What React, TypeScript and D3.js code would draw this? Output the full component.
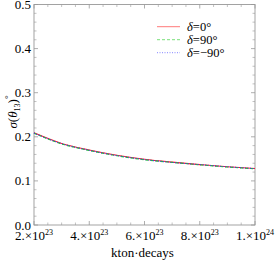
import React from "react";
import * as d3 from "d3";

// exposure in units of 1e23 kton·decays
const exposure = [2, 3, 4, 5, 6, 7, 8, 9, 10];
const sigmaDelta0 = [0.209, 0.185, 0.17, 0.158, 0.149, 0.1425, 0.137, 0.132, 0.128];
const sigmaDelta90 = [0.208, 0.184, 0.169, 0.157, 0.148, 0.142, 0.1365, 0.1315, 0.1275];
const sigmaDeltaM90 = [0.2085, 0.1845, 0.1695, 0.1575, 0.1485, 0.142, 0.137, 0.132, 0.1278];
const xMajor = [2, 4, 6, 8, 10];
const xMajorMant = ["2.", "4.", "6.", "8.", "1."];
const xMajorExp = ["23", "23", "23", "23", "24"];
const yMajor = [0, 0.1, 0.2, 0.3, 0.4, 0.5];
const legendLabels = ["0°", "90°", "−90°"];

const width = 275,
  height = 261;
const margin = { top: 4.5, right: 20, bottom: 36, left: 34 };

export default function App() {
  const x = d3.scaleLinear().domain([2, 10]).range([margin.left, width - margin.right]);
  const y = d3.scaleLinear().domain([0, 0.5]).range([height - margin.bottom, margin.top]);

  const xMinor = d3.range(2, 10.01, 0.5).filter(v => !xMajor.includes(v));
  const yMinor = d3.range(0, 0.501, 0.02).filter(v => !yMajor.some(m => Math.abs(m - v) < 1e-6));

  const line = d3
    .line<number>()
    .x((_, i) => x(exposure[i]))
    .y(d => y(d))
    .curve(d3.curveMonotoneX);

  const series = [
    { data: sigmaDelta0, color: "#f22", dash: null },
    { data: sigmaDelta90, color: "#2c2", dash: "3,2" },
    { data: sigmaDeltaM90, color: "#33f", dash: "1,1.5" },
  ];

  const x0 = margin.left,
    x1 = width - margin.right,
    y0 = height - margin.bottom,
    y1 = margin.top;
  const axisColor = "#999";
  const txt = { fontFamily: "Liberation Serif, Times New Roman, serif" };

  return (
    <svg
      width={width}
      height={height}
      style={{ position: "absolute", left: 0, top: 0, background: "#fff" }}
    >
      {/* ticks */}
      {xMajor.map(v => (
        <g key={"xM" + v} stroke={axisColor} strokeWidth={0.8}>
          <line x1={x(v)} x2={x(v)} y1={y0} y2={y0 - 4} />
          <line x1={x(v)} x2={x(v)} y1={y1} y2={y1 + 4} />
        </g>
      ))}
      {xMinor.map(v => (
        <g key={"xm" + v} stroke={axisColor} strokeWidth={0.6}>
          <line x1={x(v)} x2={x(v)} y1={y0} y2={y0 - 2.5} />
          <line x1={x(v)} x2={x(v)} y1={y1} y2={y1 + 2.5} />
        </g>
      ))}
      {yMajor.map(v => (
        <g key={"yM" + v} stroke={axisColor} strokeWidth={0.8}>
          <line x1={x0} x2={x0 + 4} y1={y(v)} y2={y(v)} />
          <line x1={x1} x2={x1 - 4} y1={y(v)} y2={y(v)} />
        </g>
      ))}
      {yMinor.map(v => (
        <g key={"ym" + v} stroke={axisColor} strokeWidth={0.6}>
          <line x1={x0} x2={x0 + 2.5} y1={y(v)} y2={y(v)} />
          <line x1={x1} x2={x1 - 2.5} y1={y(v)} y2={y(v)} />
        </g>
      ))}
      <rect x={x0} y={y1} width={x1 - x0} height={y0 - y1} fill="none" stroke={axisColor} strokeWidth={0.9} />

      {/* curves */}
      {series.map((s, i) => (
        <path
          key={i}
          d={line(s.data) || ""}
          fill="none"
          stroke={s.color}
          strokeWidth={1.1}
          strokeDasharray={s.dash || undefined}
        />
      ))}

      {/* tick labels */}
      {yMajor.map(v => (
        <text key={"yl" + v} x={x0 - 3} y={y(v) + 4.5} textAnchor="end" fontSize={13} style={txt}>
          {v.toFixed(1)}
        </text>
      ))}
      {xMajor.map((v, i) => (
        <text key={"xl" + v} x={x(v)} y={y0 + 15} textAnchor="middle" fontSize={13} style={txt}>
          {xMajorMant[i]}×10
          <tspan fontSize={8} dy={-5}>
            {xMajorExp[i]}
          </tspan>
        </text>
      ))}

      {/* axis titles */}
      <text x={(x0 + x1) / 2 - 2} y={257} textAnchor="middle" fontSize={13} style={txt}>
        kton·decays
      </text>
      <text transform={`translate(17,112) rotate(-90)`} textAnchor="middle" fontSize={13} style={txt}>
        <tspan fontStyle="italic">σ</tspan>(<tspan fontStyle="italic">θ</tspan>
        <tspan fontSize={8} dy={3}>13</tspan>
        <tspan dy={-3}>)</tspan>
        <tspan fontSize={9} dy={-6}>°</tspan>
      </text>

      {/* legend */}
      {series.map((s, i) => {
        const ly = 26.7 + i * 13;
        return (
          <g key={"lg" + i}>
            <line
              x1={157}
              x2={180}
              y1={ly}
              y2={ly}
              stroke={s.color}
              strokeWidth={1}
              strokeOpacity={0.6}
              strokeDasharray={s.dash || undefined}
            />
            <text x={187} y={ly + 4} fontSize={12.5} style={txt}>
              <tspan fontStyle="italic">δ</tspan>={legendLabels[i]}
            </text>
          </g>
        );
      })}
    </svg>
  );
}
